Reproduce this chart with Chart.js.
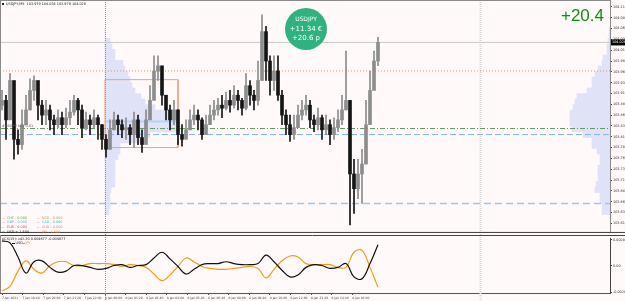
<!DOCTYPE html>
<html>
<head>
<meta charset="utf-8">
<script src="https://cdn.jsdelivr.net/npm/chart.js@4.4.1/dist/chart.umd.min.js"></script>
<style>
body { margin: 0; width: 625px; height: 301px; overflow: hidden; position: relative; background: #fffaf9; }
canvas { position: absolute; left: 0; }
#profile, #main { top: 0; }
#osc { top: 235px; }
</style>
</head>
<body>
<canvas id="profile" width="625" height="235"></canvas>
<canvas id="main" width="625" height="235"></canvas>
<canvas id="osc" width="625" height="66"></canvas>
<script>
// USDJPY M5 bars, index = bar number counted from the left edge
const highs = [
  103.917,103.906,103.956,103.894,103.826,103.872,103.906,103.944,103.951,103.917,
  103.894,103.894,103.883,103.860,103.872,103.867,103.876,103.894,103.906,103.899,
  103.883,103.867,103.860,103.872,103.860,103.838,103.815,103.849,103.867,103.860,
  103.849,103.854,103.838,103.867,103.860,103.826,103.872,103.928,103.997,103.997,
  103.962,103.906,103.883,103.894,103.872,103.838,103.849,103.872,103.883,103.872,
  103.854,103.860,103.883,103.894,103.899,103.906,103.913,103.917,103.928,103.917,
  103.899,103.956,103.940,103.917,103.985,104.092,104.065,103.997,103.997,103.997,
  103.917,103.872,103.860,103.860,103.883,103.894,103.906,103.894,103.860,103.876,
  103.860,103.860,103.849,103.854,103.872,103.906,104.008,103.894,103.758,103.758,
  103.781,103.894,103.962,104.008,104.040];
const lows = [
  103.872,103.804,103.872,103.758,103.770,103.781,103.838,103.872,103.894,103.849,
  103.838,103.838,103.826,103.815,103.831,103.815,103.831,103.838,103.860,103.838,
  103.808,103.826,103.815,103.831,103.804,103.781,103.763,103.781,103.826,103.815,
  103.808,103.804,103.792,103.785,103.792,103.774,103.804,103.860,103.917,103.940,
  103.883,103.849,103.826,103.838,103.792,103.788,103.808,103.826,103.838,103.826,
  103.804,103.815,103.844,103.849,103.860,103.854,103.872,103.867,103.876,103.872,
  103.860,103.872,103.883,103.872,103.883,103.962,103.940,103.906,103.917,103.894,
  103.838,103.815,103.799,103.804,103.838,103.849,103.860,103.831,103.822,103.826,
  103.804,103.815,103.792,103.804,103.822,103.838,103.872,103.606,103.633,103.667,
  103.656,103.747,103.860,103.940,103.974];
const closes = [
  103.894,103.849,103.940,103.804,103.792,103.838,103.872,103.917,103.940,103.883,
  103.860,103.872,103.849,103.838,103.854,103.838,103.854,103.867,103.894,103.872,
  103.831,103.849,103.838,103.854,103.838,103.804,103.781,103.826,103.849,103.838,
  103.826,103.831,103.815,103.849,103.808,103.792,103.849,103.894,103.962,103.974,
  103.906,103.872,103.849,103.872,103.815,103.804,103.826,103.849,103.860,103.849,
  103.815,103.838,103.860,103.872,103.883,103.876,103.894,103.883,103.906,103.894,
  103.876,103.928,103.906,103.894,103.940,104.053,103.985,103.940,103.962,103.906,
  103.860,103.838,103.815,103.831,103.860,103.872,103.883,103.849,103.838,103.854,
  103.826,103.838,103.815,103.831,103.849,103.872,103.894,103.724,103.690,103.724,
  103.747,103.838,103.917,103.985,104.028];
const opens = [103.883].concat(closes.slice(0, -1));

const priceTicks = [104.110,104.085,104.060,104.035,104.010,103.985,103.960,103.935,103.910,103.885,
  103.860,103.835,103.810,103.785,103.760,103.735,103.710,103.685,103.660,103.635,103.610];

// horizontal levels: bid, day open, order entry, two blue levels
const bidPrice = 104.028;
const levelPrices = [104.028, 103.962, 103.829, 103.815, 103.656];
const boxPrices = [103.942, 103.785];
const boxBars = [25.75, 44];
const pocPrice = 103.845;
const separators = [25.75, 119.5];   // day start, right margin marker

// volume profiles, one bin every 0.015
const profileLevels = [104.0925,104.0775,104.0625,104.0475,104.0325,104.0175,104.0025,103.9875,103.9725,103.9575,
  103.9425,103.9275,103.9125,103.8975,103.8825,103.8675,103.8525,103.8375,103.8225,103.8075,
  103.7925,103.7775,103.7625,103.7475,103.7325,103.7175,103.7025,103.6875,103.6725,103.6575,
  103.6425,103.6275,103.6125,103.5975];
const profileLeft = [0,0,5,7,10,10,18,20,23,25,27,30,36,40,50,72,72,73,75,45,40,15,15,13,10,10,10,10,10,6,5,5,5,4];
const profileRight = [1,1,2,3,3,7,8,12,15,18,18,23,33,35,37,40,40,40,38,27,18,18,13,10,10,12,12,12,14,15,10,10,8,8];

// strength oscillator, one value every 2 bars
const oscUSD = [0.00272,0.00251,0.00097,-0.00077,0.00046,0.00056,-0.00015,-0.00067,-0.00056,0.00005,
  0.00005,-0.00015,-0.00036,-0.00026,0.00005,0.00015,-0.00015,0.00005,0.00015,0.00087,
  0.00149,0.00077,-0.00005,-0.00087,-0.00036,0.00015,0.00026,0.00026,0.00046,0.00026,
  0.00015,0.00015,0.00026,0.00118,0.00046,-0.00046,-0.00118,-0.00097,-0.00015,0.00015,
  0.00005,-0.00026,-0.00015,0.00026,-0.00118,-0.00138,0.00026,0.00230];
const oscJPY = [-0.00272,-0.00220,-0.00056,0.00056,-0.00036,-0.00077,0.00005,0.00046,0.00046,0.00005,
  0.00005,0.00026,0.00026,0.00026,0.00015,-0.00005,0.00015,0.00005,-0.00015,-0.00087,
  -0.00159,-0.00097,-0.00005,0.00087,0.00046,-0.00005,-0.00026,-0.00036,-0.00036,-0.00026,
  -0.00015,-0.00005,-0.00026,-0.00128,-0.00036,0.00056,0.00108,0.00097,0.00026,0.00015,
  0.00015,0.00015,-0.00015,-0.00015,0.00149,0.00169,-0.00015,-0.00230];
const oscTicks = [0.002822, 0, -0.002822];

const timeLabels = ['7 Jan 2021','7 Jan 18:40','7 Jan 20:00','7 Jan 21:20','7 Jan 22:40','8 Jan 00:00',
  '8 Jan 01:20','8 Jan 02:40','8 Jan 04:00','8 Jan 05:20','8 Jan 06:40','8 Jan 08:00','8 Jan 09:20',
  '8 Jan 10:40','8 Jan 12:00','8 Jan 13:20','8 Jan 14:40','8 Jan 16:00'];
const labelStep = 5.15;   // bars between time labels

const currencies = ['CHF','NZD','GBP','CAD','EUR','AUD','USD','JPY'];
const strengths = ['- 0.000','- 0.000','- 0.000','- 0.000','- 0.000','- 0.000','+ 1.504','- 1.504'];

const xMin = -0.5, xMax = 152;
const font = '"DejaVu Sans", sans-serif';
const upColor = '#8d8d8d', downColor = '#151515';
const barColors = closes.map((c, i) => c >= opens[i] ? upColor : downColor);
const levelColors = ['#c8c8c8', '#f28a62', '#5c9c5c', '#7fb1ec', '#9fc6f3'];
const levelDashes = [[], [1, 2], [5, 2, 1, 2], [6, 3], [7, 4]];
const legendColors = ['#4cb04c','#b8a060','#6f9ee0','#36b6d8','#e04848','#e47fa6','#111','#f09020'];

function drawSeparators(chart) {
  const ctx = chart.ctx, x = chart.scales.x;
  ctx.save();
  separators.forEach((s, k) => {
    const px = Math.round(x.getPixelForValue(s)) + 0.5;
    ctx.strokeStyle = k == 0 ? '#8c8c8c' : '#d6d6d6';
    ctx.lineWidth = k == 0 ? 1 : 2;
    ctx.setLineDash([1, 1]);
    ctx.beginPath();
    ctx.moveTo(px, 0);
    ctx.lineTo(px, chart.height);
    ctx.stroke();
  });
  ctx.restore();
}

// profile underneath the price panel
new Chart(document.getElementById('profile'), {
  type: 'bar',
  data: {
    datasets: [{
      data: profileLevels.map((p, k) => ({ y: p, x: [boxBars[0], boxBars[0] + profileLeft[k] * 0.25] })),
      backgroundColor: 'rgb(224,226,248)'
    }, {
      data: profileLevels.map((p, k) => ({ y: p, x: [xMax - profileRight[k] * 0.25, xMax] })),
      backgroundColor: 'rgb(224,226,248)'
    }]
  },
  options: {
    indexAxis: 'y',
    responsive: false,
    animation: false,
    grouped: false,
    barPercentage: 1,
    categoryPercentage: 1,
    layout: { padding: { top: 1, bottom: 1, right: 15, left: 0 } },
    plugins: { legend: { display: false }, tooltip: { enabled: false } },
    scales: {
      x: { type: 'linear', min: xMin, max: xMax, display: false },
      y: { type: 'linear', min: 103.590, max: 104.119, display: false }
    }
  }
});

const lineSets = levelPrices.map((p, k) => ({
  type: 'line',
  data: [{ x: xMin, y: p }, { x: xMax, y: p }],
  borderColor: levelColors[k],
  borderDash: levelDashes[k],
  borderWidth: k == 4 ? 1.5 : 1,
  pointRadius: 0,
  order: 2
}));
lineSets.push({
  type: 'line',
  data: [{ x: boxBars[0], y: boxPrices[0] }, { x: boxBars[1], y: boxPrices[0] }, { x: boxBars[1], y: boxPrices[1] },
         { x: boxBars[0], y: boxPrices[1] }, { x: boxBars[0], y: boxPrices[0] }],
  borderColor: '#f0a07c', borderWidth: 1, pointRadius: 0, order: 1
});
lineSets.push({
  type: 'line',
  data: [{ x: boxBars[0], y: pocPrice }, { x: boxBars[1], y: pocPrice }],
  borderColor: '#b6d2f4', borderWidth: 2, pointRadius: 0, order: 1
});

const mainOverlay = {
  id: 'mainOverlay',
  beforeDatasetsDraw(chart) { drawSeparators(chart); },
  afterDraw(chart) {
    const ctx = chart.ctx, a = chart.chartArea, y = chart.scales.y;
    ctx.save();
    ctx.strokeStyle = '#8a8a8a';
    ctx.lineWidth = 1;
    ctx.strokeRect(0.5, 0.5, a.right, a.bottom);
    ctx.strokeStyle = '#444';
    ctx.beginPath(); ctx.moveTo(0, a.bottom + 0.5); ctx.lineTo(625, a.bottom + 0.5); ctx.stroke();

    // header
    ctx.fillStyle = '#222';
    ctx.font = '3.4px ' + font;
    ctx.textBaseline = 'middle';
    ctx.fillRect(2, 3, 2, 2);
    ctx.fillText('USDJPY,M5  103.979 104.034 103.979 104.028', 6, 4.5);

    // order line label
    ctx.fillStyle = '#555';
    ctx.fillText('#USDJPY buy 0.01', 2, y.getPixelForValue(levelPrices[2]) - 2);

    // currency strength legend
    currencies.forEach((c, k) => {
      const lx = (k % 2) * 35 + 2, ly = 218 + Math.floor(k / 2) * 4.6;
      const plus = strengths[k][0] == '+';
      ctx.fillStyle = plus ? '#2aa02a' : '#e03030';
      ctx.fillText(plus ? '+' : '--', lx, ly);
      ctx.fillStyle = legendColors[k];
      ctx.fillText(c + ' ' + strengths[k], lx + 5, ly);
    });

    // bid label on the axis
    const by = y.getPixelForValue(bidPrice);
    ctx.fillStyle = '#000';
    ctx.fillRect(a.right + 1, by - 3, 14, 6);
    ctx.fillStyle = '#fff';
    ctx.fillText(bidPrice.toFixed(3), a.right + 2, by);

    // profit badge
    ctx.fillStyle = '#2fb27f';
    ctx.beginPath(); ctx.arc(306, 29, 21, 0, Math.PI * 2); ctx.fill();
    ctx.fillStyle = '#fff';
    ctx.textAlign = 'center';
    ctx.font = '6px ' + font;
    ctx.fillText('USDJPY', 306, 19);
    ctx.font = '7px ' + font;
    ctx.fillText('+11.34 €', 306, 29);
    ctx.fillText('+20.6 p', 306, 38.5);

    ctx.fillStyle = '#0f8f0f';
    ctx.textAlign = 'right';
    ctx.font = '17px "Liberation Sans", sans-serif';
    ctx.fillText('+20.4', 604, 16);
    ctx.restore();
  }
};

new Chart(document.getElementById('main'), {
  type: 'bar',
  data: {
    datasets: [{
      data: closes.map((c, i) => ({ x: i, y: [opens[i], c] })),
      backgroundColor: barColors,
      barThickness: 3,
      minBarLength: 1,
      order: 0
    }, {
      data: highs.map((h, i) => ({ x: i, y: [lows[i], h] })),
      backgroundColor: barColors,
      barThickness: 1,
      order: 0
    }].concat(lineSets)
  },
  options: {
    responsive: false,
    animation: false,
    grouped: false,
    layout: { padding: { top: 1, bottom: 1, left: 0, right: 0 } },
    plugins: { legend: { display: false }, tooltip: { enabled: false } },
    scales: {
      x: { type: 'linear', min: xMin, max: xMax, display: false, offset: false },
      y: {
        type: 'linear', position: 'right', min: 103.590, max: 104.119,
        afterFit(s) { s.width = 15; },
        afterBuildTicks(s) { s.ticks = priceTicks.map(v => ({ value: v })); },
        grid: { drawOnChartArea: false, tickLength: 2, color: '#444' },
        border: { color: '#444' },
        ticks: { font: { size: 3.4, family: font }, color: '#333', padding: 1, callback: v => v.toFixed(3) }
      }
    }
  },
  plugins: [mainOverlay]
});

const oscOverlay = {
  id: 'oscOverlay',
  beforeDatasetsDraw(chart) { drawSeparators(chart); },
  afterDraw(chart) {
    const ctx = chart.ctx, a = chart.chartArea;
    ctx.save();
    ctx.strokeStyle = '#444';
    ctx.beginPath(); ctx.moveTo(0, 0.5); ctx.lineTo(625, 0.5); ctx.stroke();
    ctx.strokeStyle = '#8a8a8a';
    ctx.beginPath(); ctx.moveTo(0.5, 0); ctx.lineTo(0.5, a.bottom); ctx.stroke();
    ctx.font = '3.4px ' + font;
    ctx.textBaseline = 'middle';
    ctx.fillStyle = '#222';
    ctx.fillText('ACS(15): x42.30 0.004677 -0.004677', 2, 4);
    ctx.fillStyle = '#111';
    ctx.fillRect(12, 8, 3, 1);
    ctx.fillText('USD', 15.5, 8.5);
    ctx.fillStyle = '#f09020';
    ctx.fillRect(22, 8, 3, 1);
    ctx.fillText('JPY', 25.5, 8.5);
    ctx.restore();
  }
};

new Chart(document.getElementById('osc'), {
  type: 'line',
  data: {
    datasets: [{
      data: oscUSD.map((v, k) => ({ x: k * 2, y: v })),
      borderColor: '#111', borderWidth: 1.2, pointRadius: 0, tension: 0.4
    }, {
      data: oscJPY.map((v, k) => ({ x: k * 2, y: v })),
      borderColor: '#f39a1e', borderWidth: 1.2, pointRadius: 0, tension: 0.4
    }]
  },
  options: {
    responsive: false,
    animation: false,
    layout: { padding: { top: 0, bottom: 0, left: 0, right: 0 } },
    plugins: { legend: { display: false }, tooltip: { enabled: false } },
    scales: {
      x: {
        type: 'linear', min: xMin, max: xMax, position: 'bottom',
        afterFit(s) { s.height = 8; },
        afterBuildTicks(s) { s.ticks = timeLabels.map((t, k) => ({ value: k * labelStep })); },
        grid: { drawOnChartArea: false, tickLength: 2, color: '#555' },
        border: { color: '#555' },
        ticks: { autoSkip: false, maxRotation: 0, align: 'start', padding: 1, font: { size: 3, family: font }, color: '#444',
                 callback: (v, i) => timeLabels[i] }
      },
      y: {
        type: 'linear', position: 'right', min: -0.002925, max: 0.003027,
        afterFit(s) { s.width = 15; },
        afterBuildTicks(s) { s.ticks = oscTicks.map(v => ({ value: v })); },
        grid: { drawOnChartArea: false, tickLength: 2, color: '#444' },
        border: { color: '#444' },
        ticks: { font: { size: 3.4, family: font }, color: '#333', padding: 1,
                 callback: v => v == 0 ? '0.00' : v.toFixed(6) }
      }
    }
  },
  plugins: [oscOverlay]
});
</script>
</body>
</html>
